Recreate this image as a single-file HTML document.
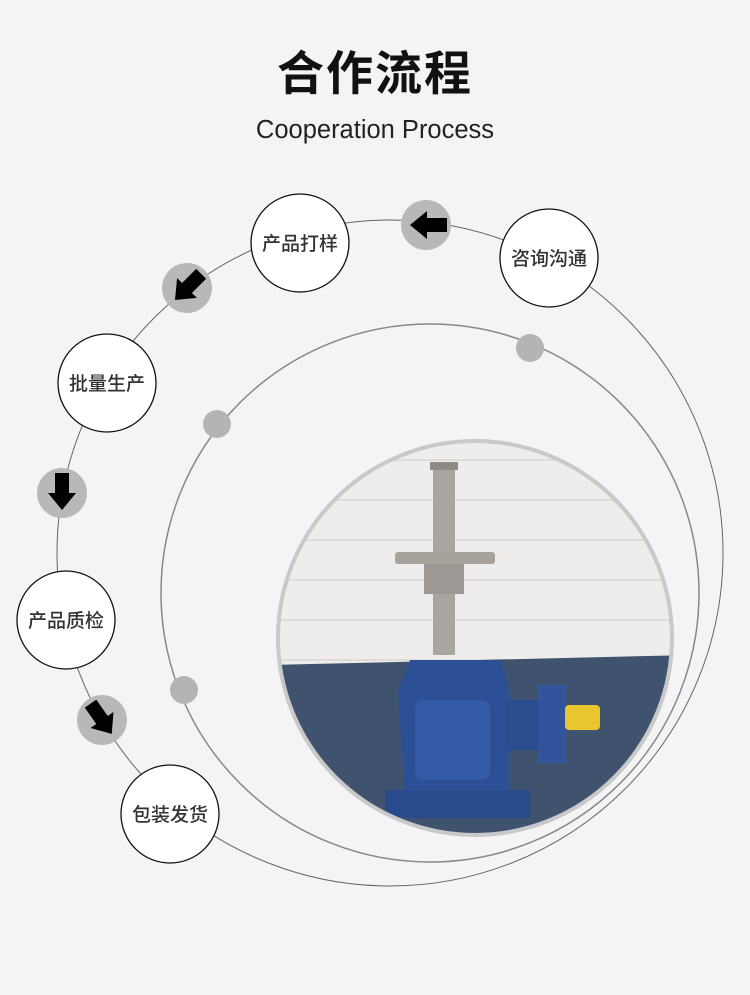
<!DOCTYPE html>
<html><head><meta charset="utf-8"><style>
html,body{margin:0;padding:0;background:#f4f4f6;}
body{width:750px;height:995px;overflow:hidden;position:relative;font-family:"Liberation Sans","Noto Sans CJK SC",sans-serif;}
.t1{position:absolute;top:44px;left:0;width:750px;text-align:center;font-size:47px;font-weight:bold;color:#111;line-height:60px;letter-spacing:2px;}
.t2{position:absolute;top:114px;left:0;width:750px;text-align:center;font-size:25.5px;color:#222;line-height:32px;}
</style></head><body>
<div class="t1">合作流程</div>
<div class="t2">Cooperation Process</div>
<svg width="750" height="995" style="position:absolute;left:0;top:0" xmlns="http://www.w3.org/2000/svg">
<defs><clipPath id="pc"><circle cx="475" cy="638" r="196"/></clipPath></defs>
<circle cx="390" cy="553" r="333" fill="none" stroke="#666" stroke-width="1"/>
<circle cx="430" cy="593" r="269" fill="none" stroke="#888" stroke-width="1.5"/>
<g clip-path="url(#pc)">
<rect x="270" y="430" width="420" height="420" fill="#efedeb"/>
<g stroke="#dedbd8" stroke-width="2">
<line x1="270" y1="500" x2="690" y2="500"/><line x1="270" y1="540" x2="690" y2="540"/><line x1="270" y1="580" x2="690" y2="580"/><line x1="270" y1="620" x2="690" y2="620"/><line x1="270" y1="660" x2="690" y2="660"/><line x1="270" y1="460" x2="690" y2="460"/>
</g>
<polygon points="270,665 690,655 690,850 270,850" fill="#3f536f"/>
<rect x="433" y="465" width="22" height="190" fill="#a9a6a2"/>
<rect x="430" y="462" width="28" height="8" fill="#8e8b87"/>
<rect x="395" y="552" width="100" height="12" rx="3" fill="#a8a29c"/>
<rect x="424" y="564" width="40" height="30" fill="#9d9893"/>
<polygon points="410,660 500,660 510,690 510,800 405,800 398,690" fill="#2d4f96"/>
<rect x="385" y="790" width="145" height="28" fill="#2a4a8e"/>
<rect x="415" y="700" width="75" height="80" rx="8" fill="#355aa6"/>
<rect x="505" y="700" width="40" height="50" fill="#2c4c90"/>
<rect x="538" y="685" width="28" height="78" fill="#31549c"/>
<rect x="565" y="705" width="35" height="25" rx="4" fill="#e8c630"/>
</g>
<circle cx="475" cy="638" r="197" fill="none" stroke="#c9c9c9" stroke-width="4"/>
<g fill="#b5b3b4">
<circle cx="530" cy="348" r="14"/><circle cx="217" cy="424" r="14"/><circle cx="184" cy="690" r="14"/>
</g>
<g fill="#b9b7b8">
<circle cx="426" cy="225" r="25"/><circle cx="187" cy="288" r="25"/><circle cx="62" cy="493" r="25"/><circle cx="102" cy="720" r="25"/>
</g>
<g fill="#000">
<polygon points="0,-17 -14,0 -7,0 -7,20 7,20 7,0 14,0" transform="translate(427,225) rotate(-90)"/>
<polygon points="0,-17 -14,0 -7,0 -7,20 7,20 7,0 14,0" transform="translate(187,288) rotate(-135)"/>
<polygon points="0,-17 -14,0 -7,0 -7,20 7,20 7,0 14,0" transform="translate(62,493) rotate(180)"/>
<polygon points="0,-17 -14,0 -7,0 -7,20 7,20 7,0 14,0" transform="translate(102,720) rotate(145)"/>
</g>
<g fill="#fff" stroke="#111" stroke-width="1.3">
<circle cx="549" cy="258" r="49"/><circle cx="300" cy="243" r="49"/><circle cx="107" cy="383" r="49"/><circle cx="66" cy="620" r="49"/><circle cx="170" cy="814" r="49"/>
</g>
<g font-family="'Liberation Sans','Noto Sans CJK SC',sans-serif" font-size="19" fill="#333" text-anchor="middle" font-weight="500">
<text x="549" y="265">咨询沟通</text>
<text x="300" y="250">产品打样</text>
<text x="107" y="390">批量生产</text>
<text x="66" y="627">产品质检</text>
<text x="170" y="821">包装发货</text>
</g>
</svg>
</body></html>
